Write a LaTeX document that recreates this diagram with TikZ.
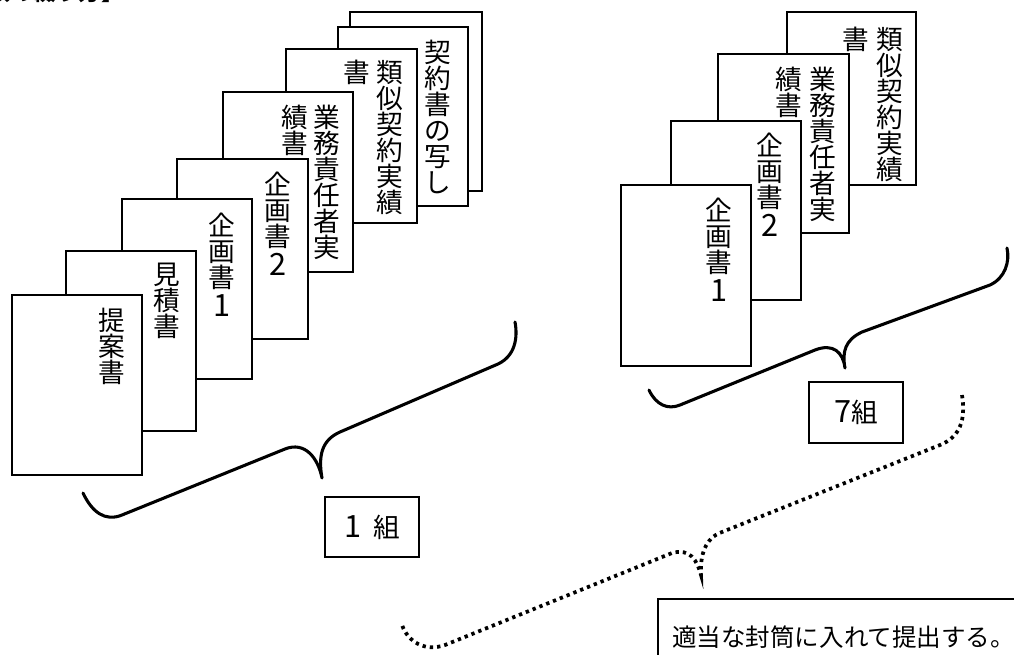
\documentclass[tikz,border=0pt]{standalone}
\usepackage{fontspec}
\newfontfamily\cjk{Noto Sans CJK JP}
\newcommand{\bigd}[1]{{\fontsize{23}{19.5}\selectfont #1}}
\newcommand{\vtfont}{\cjk\fontsize{20}{19.5}\selectfont\lineskiplimit=-30pt\relax\lineskip=0pt\relax}
\begin{document}
\begin{tikzpicture}[x=0.75pt,y=-0.75pt,
  paper/.style={draw,fill=white,line width=1.1pt},
  vt/.style={anchor=north,inner sep=0pt,align=center,font=\vtfont},
  brace/.style={line width=2.3pt,line cap=round,line join=round},
  dotbrace/.style={line width=2.8pt,dash pattern=on 2.5pt off 3pt},
  lbl/.style={draw,line width=1.1pt,inner sep=0pt,font=\cjk\fontsize{20}{20}\selectfont}]
\useasboundingbox (0,0) rectangle (1014,654);
\clip (0,0) rectangle (1014,654);
% title (clipped at top)
\node[anchor=south east,inner sep=0pt,font=\cjk\bfseries\fontsize{17}{17}\selectfont] (title) at (124,3) {【提出書類の綴り方】};
% ---- left stack ----
\draw[paper] (350,12) rectangle (482,191);
\draw[paper] (338,27) rectangle (468,206);
\node[vt] (l7) at (438,40) {契\\約\\書\\の\\写\\し};
\draw[paper] (286,49) rectangle (417,223);
\node[vt] (l6a) at (390,60) {類\\似\\契\\約\\実\\績};
\node[vt] (l6b) at (357,60) {書};
\draw[paper] (223,92) rectangle (353,272);
\node[vt] (l5a) at (327,105) {業\\務\\責\\任\\者\\実};
\node[vt] (l5b) at (295,105) {績\\書};
\draw[paper] (177,159) rectangle (308,339);
\node[vt] (l4) at (278,172) {企\\画\\書\\[2pt]\bigd{2}};
\draw[paper] (122,199) rectangle (252,379);
\node[vt] (l3) at (222,213) {企\\画\\書\\[2pt]\bigd{1}};
\draw[paper] (66,251) rectangle (196,431);
\node[vt] (l2) at (167,263) {見\\積\\書};
\draw[paper] (12,295) rectangle (142,475);
\node[vt] (l1) at (112,308) {提\\案\\書};
% ---- right stack ----
\draw[paper] (787,12) rectangle (916,185);
\node[vt] (r4a) at (890,27) {類\\似\\契\\約\\実\\績};
\node[vt] (r4b) at (856,27) {書};
\draw[paper] (718,54) rectangle (849,233);
\node[vt] (r3a) at (823,67) {業\\務\\責\\任\\者\\実};
\node[vt] (r3b) at (789,67) {績\\書};
\draw[paper] (671,121) rectangle (801,300);
\node[vt] (r2) at (770,133) {企\\画\\書\\[2pt]\bigd{2}};
\draw[paper] (621,185) rectangle (751,366);
\node[vt] (r1) at (719,198) {企\\画\\書\\[2pt]\bigd{1}};
% ---- braces ----
\draw[brace] (83,493) .. controls (92,512) and (105,522) .. (122,515) -- (285,449)
  .. controls (305,441) and (318,458) .. (322,478)
  .. controls (318,455) and (322,440) .. (340,432) -- (498,364)
  .. controls (515,356) and (518,338) .. (515,322);
\draw[brace] (649,390) .. controls (656,405) and (668,410) .. (680,405) -- (815,350)
  .. controls (833,343) and (843,352) .. (845,368)
  .. controls (842,352) and (845,340) .. (862,332) -- (990,285)
  .. controls (1005,278) and (1010,262) .. (1007,248);
% ---- group labels ----
\node[lbl,minimum width=70.5pt,minimum height=45pt] (g1) at (372,527) {\bigd{1}\hspace{0.45em}組};
\node[lbl,minimum width=70.5pt,minimum height=45.75pt] (g7) at (856,412.5) {\bigd{7}組};
% ---- dotted brace ----
\draw[dotbrace] (962,395) .. controls (966,420) and (960,437) .. (940,445) -- (722,532)
  .. controls (705,538) and (700,555) .. (701,575)
  .. controls (697,560) and (690,548) .. (672,553) -- (445,645)
  .. controls (425,652) and (408,642) .. (402,625);
% ---- instruction box ----
\draw[line width=1.1pt] (1030,599) -- (658,599) -- (658,670);
\node[anchor=west,inner sep=0pt,font=\cjk\fontsize{18.4}{20}\selectfont] (note) at (672,637) {適当な封筒に入れて提出する。};
\end{tikzpicture}
\end{document}
